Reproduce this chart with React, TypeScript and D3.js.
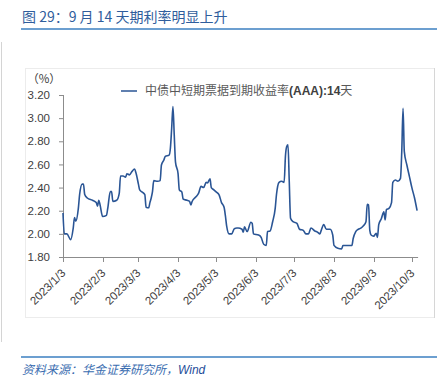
import React from "react";
import * as d3 from "d3";

const dates: string[] = [
  "2023-01-03","2023-01-04","2023-01-06","2023-01-09","2023-01-11","2023-01-12","2023-01-13","2023-01-15","2023-01-16","2023-01-18",
  "2023-01-19","2023-01-20","2023-01-22","2023-01-26","2023-01-29","2023-01-30","2023-01-31","2023-02-01","2023-02-03","2023-02-06",
  "2023-02-07","2023-02-09","2023-02-10","2023-02-11","2023-02-14","2023-02-16","2023-02-17","2023-02-19","2023-02-21","2023-02-22",
  "2023-02-24","2023-02-26","2023-02-28","2023-03-01","2023-03-03","2023-03-04","2023-03-06","2023-03-08","2023-03-09","2023-03-11",
  "2023-03-12","2023-03-13","2023-03-14","2023-03-15","2023-03-18","2023-03-20","2023-03-21","2023-03-23","2023-03-24","2023-03-27",
  "2023-03-28","2023-03-29","2023-03-30","2023-03-31","2023-04-01","2023-04-03","2023-04-04","2023-04-06","2023-04-07","2023-04-10",
  "2023-04-12","2023-04-13","2023-04-14","2023-04-17","2023-04-19","2023-04-21","2023-04-23","2023-04-25","2023-04-26","2023-04-28",
  "2023-04-29","2023-05-01","2023-05-03","2023-05-05","2023-05-07","2023-05-09","2023-05-10","2023-05-11","2023-05-13","2023-05-15",
  "2023-05-17","2023-05-19","2023-05-20","2023-05-23","2023-05-24","2023-05-25","2023-05-27","2023-05-30","2023-05-31","2023-06-01",
  "2023-06-05","2023-06-07","2023-06-09","2023-06-11","2023-06-12","2023-06-14","2023-06-16","2023-06-18","2023-06-19","2023-06-21",
  "2023-06-23","2023-06-25","2023-06-26","2023-06-27","2023-06-28","2023-06-29","2023-06-30","2023-07-02","2023-07-05","2023-07-07",
  "2023-07-10","2023-07-12","2023-07-14","2023-07-16","2023-07-19","2023-07-21","2023-07-23","2023-07-24","2023-07-26","2023-07-28",
  "2023-07-31","2023-08-02","2023-08-03","2023-08-06","2023-08-09","2023-08-10","2023-08-13","2023-08-17","2023-08-18","2023-08-20",
  "2023-08-22","2023-08-24","2023-08-26","2023-08-28","2023-08-29","2023-08-30","2023-08-31","2023-09-01","2023-09-03","2023-09-05",
  "2023-09-06","2023-09-07","2023-09-09","2023-09-11","2023-09-12","2023-09-13","2023-09-15","2023-09-17","2023-09-18","2023-09-20",
  "2023-09-22","2023-09-24","2023-09-25","2023-09-26","2023-09-27","2023-09-29","2023-10-01","2023-10-03","2023-10-05","2023-10-07",
];

const rates: number[] = [
  2.18,2.00,2.00,1.95,2.05,2.14,2.11,2.22,2.34,2.43,
  2.43,2.34,2.31,2.29,2.27,2.24,2.29,2.25,2.15,2.16,
  2.22,2.365,2.365,2.28,2.29,2.35,2.50,2.50,2.49,2.52,
  2.51,2.54,2.56,2.53,2.43,2.38,2.36,2.34,2.23,2.225,
  2.27,2.31,2.365,2.46,2.455,2.46,2.595,2.64,2.67,2.68,
  2.74,2.91,3.10,2.86,2.62,2.52,2.38,2.36,2.30,2.29,
  2.28,2.25,2.28,2.32,2.35,2.41,2.40,2.445,2.44,2.475,
  2.40,2.38,2.36,2.34,2.27,2.23,2.16,2.07,2.00,2.00,
  2.045,2.05,2.05,2.04,2.015,2.06,2.02,2.10,2.09,2.00,
  1.99,1.97,1.91,1.90,2.02,2.025,2.105,2.22,2.34,2.445,
  2.455,2.445,2.67,2.755,2.77,2.45,2.135,2.105,2.09,2.04,
  2.03,2.00,2.00,2.05,2.025,2.015,2.00,2.03,2.08,2.04,
  2.04,1.99,1.90,1.875,1.87,1.90,1.90,1.90,1.96,2.02,
  2.04,2.05,2.07,2.105,2.255,2.25,2.03,1.99,1.98,2.005,
  1.97,2.08,2.13,2.19,2.12,2.21,2.22,2.27,2.445,2.465,
  2.455,2.48,2.71,3.085,2.71,2.595,2.495,2.395,2.31,2.20,
];

const yTicks: number[] = [1.8, 2.0, 2.2, 2.4, 2.6, 2.8, 3.0, 3.2];
const xTickLabels: string[] = [
  "2023/1/3","2023/2/3","2023/3/3","2023/4/3","2023/5/3",
  "2023/6/3","2023/7/3","2023/8/3","2023/9/3","2023/10/3",
];

const seriesName = "中债中短期票据到期收益率";
const title = "图 29：9 月 14 天期利率明显上升";
const source = "资料来源：华金证券研究所，";

const FONT = "'Liberation Sans', Arial, 'Noto Sans CJK SC', sans-serif";
const CJK = "'Noto Sans CJK SC', 'Liberation Sans', sans-serif";

export default function App() {
  const W = 446, H = 392;
  const parse = d3.timeParse("%Y-%m-%d");
  const tickParse = d3.timeParse("%Y/%m/%d");
  const data = dates.map((d, i) => ({ date: parse(d) as Date, v: rates[i] }));
  const xTicks = xTickLabels.map((s) => tickParse(s) as Date);

  const x0 = 63, x1 = 417.1;
  const x = d3.scaleTime()
    .domain([parse("2023-01-03") as Date, parse("2023-10-07") as Date])
    .range([x0, x1]);
  const y = d3.scaleLinear().domain([1.8, 3.2]).range([257, 95]);

  const line = d3.line<{ date: Date; v: number }>()
    .x((d) => x(d.date))
    .y((d) => y(d.v))
    .curve(d3.curveMonotoneX);

  const axisColor = "#8c8c8c";
  const textColor = "#404040";

  return (
    <svg width={W} height={H} style={{ position: "absolute", left: 0, top: 0, background: "#fff" }}>
      {/* page frame lines */}
      <line x1={1.5} x2={1.5} y1={42} y2={342} stroke="#d4d4d4" strokeWidth={1} />
      <rect x={25.5} y={68.5} width={409} height={249} fill="none" stroke="#ececec" strokeWidth={1} />
      <line x1={434.5} x2={434.5} y1={68} y2={318} stroke="#d6d6d6" strokeWidth={1} />

      {/* title */}
      <text x={22} y={22} fontFamily={CJK} fontSize={14} fill="#2f5d9c">{title}</text>
      <line x1={21} x2={437} y1={29} y2={29} stroke="#3b7fc0" strokeWidth={1.5} />

      {/* unit */}
      <text x={44} y={83} fontFamily={CJK} fontSize={11.5} fill={textColor} textAnchor="middle">（%）</text>

      {/* legend */}
      <line x1={121} x2={137} y1={91} y2={91} stroke="#2a5595" strokeWidth={1.5} />
      <text x={145} y={95} fontFamily={CJK} fontSize={12} fill="#595959">
        {seriesName}
        <tspan fontFamily={FONT} fontWeight="bold" fill="#404040">(AAA):14</tspan>
        天
      </text>

      {/* y axis */}
      <line x1={x0 + 0.5} x2={x0 + 0.5} y1={95} y2={257} stroke={axisColor} />
      {yTicks.map((t) => (
        <g key={t}>
          <line x1={x0 - 4} x2={x0} y1={y(t) + 0.5} y2={y(t) + 0.5} stroke={axisColor} />
          <text x={50} y={y(t)} dy="0.36em" textAnchor="end" fontFamily={FONT} fontSize={11.5} fill={textColor}>
            {d3.format(".2f")(t)}
          </text>
        </g>
      ))}

      {/* x axis */}
      <line x1={x0} x2={x1 + 1} y1={257.5} y2={257.5} stroke={axisColor} />
      {xTicks.map((t, i) => {
        const tx = Math.round(x(t)) + 0.5;
        return (
          <g key={i}>
            <line x1={tx} x2={tx} y1={257} y2={262} stroke={axisColor} />
            <text
              transform={`translate(${tx},${271}) rotate(-45)`}
              textAnchor="end"
              dy="0.35em"
              fontFamily={FONT}
              fontSize={11.5}
              fill={textColor}
            >
              {xTickLabels[i]}
            </text>
          </g>
        );
      })}

      {/* series */}
      <path d={line(data) || ""} fill="none" stroke="#2a5595" strokeWidth={1.6} strokeLinejoin="round" />

      {/* footer */}
      <line x1={21} x2={437} y1={357} y2={357} stroke="#3b7fc0" strokeWidth={1.5} />
      <text x={22} y={374} fontFamily={CJK} fontSize={12} fontStyle="italic" fill="#3a6db0">
        {source}
        <tspan fontFamily={FONT} fill="#1f4e9a">Wind</tspan>
      </text>
    </svg>
  );
}
